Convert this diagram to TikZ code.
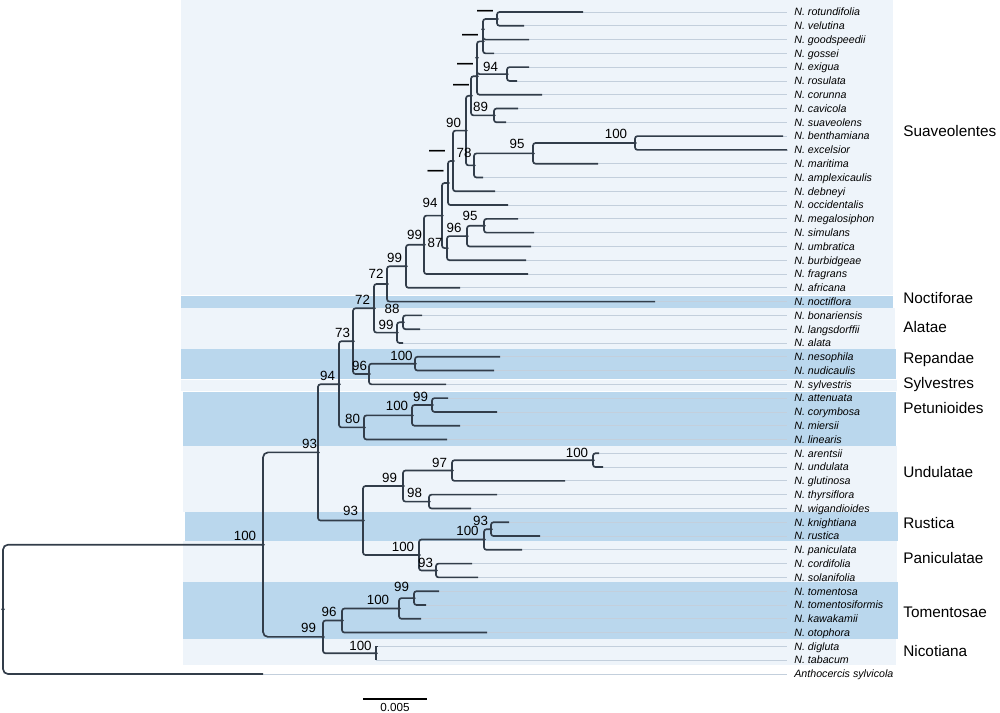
\documentclass[tikz,border=0pt]{standalone}
\usepackage{fontspec}
\setmainfont{Liberation Sans}
\usepackage{tikz}
\usetikzlibrary{positioning}

\definecolor{bandlight}{HTML}{EEF4FA}
\definecolor{banddark}{HTML}{BAD7ED}
\definecolor{branchcol}{HTML}{323D4A}
\definecolor{guidecol}{HTML}{C3CFDC}

\newcommand{\nd}{{\fontsize{9.6}{10}\selectfont\bfseries\textemdash}}

\tikzset{
  branch/.style={draw=branchcol, line width=1pt, rounded corners=1.5pt},
  guide/.style={draw=guidecol, line width=0.45pt},
  tiplab/.style={anchor=west, inner sep=0pt, font=\fontsize{6.4}{7}\selectfont\itshape, text height=4.6pt, text depth=0pt},
  bslab/.style={inner sep=0pt, font=\fontsize{8}{9}\selectfont},
  cladelab/.style={anchor=west, inner sep=0pt, font=\fontsize{9.2}{10}\selectfont, text height=6.6pt, text depth=0pt},
  scalelab/.style={inner sep=0pt, font=\fontsize{7}{8}\selectfont},
}

\begin{document}
\begin{tikzpicture}[x=0.6pt, y=-0.6pt]
\useasboundingbox (0,0) rectangle (1000,712);

% clade bands
\fill[bandlight] (181,0)   rectangle (893,295);
\fill[banddark]  (181,295.5) rectangle (893,307.5);
\fill[bandlight] (181,308) rectangle (895,349);
\fill[banddark]  (181,349) rectangle (896,379);
\fill[bandlight] (181,379.5) rectangle (897,391);
\fill[banddark]  (183,391.5) rectangle (896,446);
\fill[bandlight] (183,446) rectangle (897,512);
\fill[banddark]  (185,512) rectangle (898,540.5);
\fill[bandlight] (183,541) rectangle (897,582);
\fill[banddark]  (183,582) rectangle (898,639);
\fill[bandlight] (183,639) rectangle (896,665);

% tips, labels and guides
\foreach \n/\r/\x in {rotundifolia/1/583, velutina/2/524, goodspeedii/3/529,
  gossei/4/494, exigua/5/529, rosulata/6/517, corunna/7/542, cavicola/8/518,
  suaveolens/9/506, benthamiana/10/783, excelsior/11/787, maritima/12/598,
  amplexicaulis/13/483, debneyi/14/495, occidentalis/15/508,
  megalosiphon/16/518, simulans/17/534, umbratica/18/531, burbidgeae/19/526,
  fragrans/20/528, africana/21/460, noctiflora/22/655, bonariensis/23/422,
  langsdorffii/24/420, alata/25/403, nesophila/26/500, nudicaulis/27/494,
  sylvestris/28/446, attenuata/29/448, corymbosa/30/497, miersii/31/460,
  linearis/32/447, arentsii/33/599, undulata/34/603, glutinosa/35/565,
  thyrsiflora/36/497, wigandioides/37/471, knightiana/38/509, rustica/39/540,
  paniculata/40/522, cordifolia/41/472, solanifolia/42/478, tomentosa/43/439,
  tomentosiformis/44/426, kawakamii/45/421, otophora/46/487, digluta/47/378,
  tabacum/48/376}
{
  \coordinate (\n) at (\x,{12+13.79*(\r-1)});
  \node[tiplab] (\n-lab) at (794,{12+13.79*(\r-1)}) {N. \n};
  \draw[guide] (\n) -- ([xshift=-4pt]\n-lab.west);
}
\coordinate (sylvicola) at (263,674);
\node[tiplab] (sylvicola-lab) at (794,674) {Anthocercis sylvicola};
\draw[guide] (sylvicola) -- ([xshift=-4pt]sylvicola-lab.west);

% internal nodes
\foreach \n/\x/\y in {rv/497/19.0, rvg/483/29.3, rvgg/483/41.4, grpA/477/57.7,
  grpB/477/76.2, exro/507/74.1, grpC/471/95.8, cs/494/115.4, bex/635/143.0,
  n95/533/153.4, n78/474/165.4, n90/466/130.6, y1/453/161.0, y2/448/183.0,
  n95b/484/225.8, n96/467/236.1, n87/447/248.1, y3/442/215.6, n99a/424/244.8,
  n99b/406/266.3, n72a/387/284.0, n88/403/322.3, n99c/397/332.6,
  n72b/374/308.3, n100r/415/363.7, n96r/369/374.0, n73/353/341.2,
  n99p/432/405.0, n100p/412/415.4, n80/364/427.4, n94c/339/384.3,
  n100u/593/460.2, n97/452/470.5, n98/429/501.6, n99u/403/486.0,
  n93r/491/529.2, n100rr/484/539.5, n93p/436/570.5, n100pr/419/555.0,
  n93b/363/520.5, n93a/318/452.4, n99t/414/598.1, n100t/399/608.5,
  n96t/342/620.5, n100n/376/653.3, n99n/323/636.9, nA/263/544.7, root/3/609.3}
  \coordinate (\n) at (\x,\y);

% branches
\foreach \p/\c in {rv/rotundifolia, rv/velutina, rvg/rv, rvg/goodspeedii,
  rvgg/gossei, exro/exigua, exro/rosulata, grpA/rvgg, grpA/exro,
  grpB/corunna, cs/cavicola, cs/suaveolens, grpC/grpB, grpC/cs,
  bex/benthamiana, bex/excelsior, n95/bex, n95/maritima, n78/n95,
  n78/amplexicaulis, n90/grpC, n90/n78, y1/n90, y1/debneyi, y2/y1,
  y2/occidentalis, n95b/megalosiphon, n95b/simulans, n96/n95b, n96/umbratica,
  n87/n96, n87/burbidgeae, y3/y2, y3/n87, n99a/y3, n99a/fragrans,
  n99b/n99a, n99b/africana, n72a/n99b, n72a/noctiflora, n88/bonariensis,
  n88/langsdorffii, n99c/n88, n99c/alata, n72b/n72a, n72b/n99c,
  n100r/nesophila, n100r/nudicaulis, n96r/n100r, n96r/sylvestris, n73/n72b,
  n73/n96r, n99p/attenuata, n99p/corymbosa, n100p/n99p, n100p/miersii,
  n80/n100p, n80/linearis, n94c/n73, n94c/n80, n100u/arentsii,
  n100u/undulata, n97/n100u, n97/glutinosa, n98/thyrsiflora,
  n98/wigandioides, n99u/n97, n99u/n98, n93r/knightiana, n93r/rustica,
  n100rr/n93r, n100rr/paniculata, n93p/cordifolia, n93p/solanifolia,
  n100pr/n100rr, n100pr/n93p, n93b/n99u, n93b/n100pr, n93a/n94c, n93a/n93b,
  n99t/tomentosa, n99t/tomentosiformis, n100t/n99t, n100t/kawakamii,
  n96t/n100t, n96t/otophora, n99n/n96t, n99n/n100n}
  \draw[branch] (\p) |- (\c);
\foreach \p/\c in {rvgg/rvg, grpB/grpA, n100n/digluta, n100n/tabacum}
  \draw[branch, sharp corners] (\p) |- (\c);
\foreach \p/\c in {nA/n93a, nA/n99n, root/nA, root/sylvicola}
  \draw[branch, rounded corners=3pt] (\p) |- (\c);

% node dots
\foreach \n in {rv, rvg, rvgg, grpA, grpB, exro, grpC, cs, bex, n95, n78, n90,
  y1, y2, n95b, n96, n87, y3, n99a, n99b, n72a, n88, n99c, n72b, n100r, n96r,
  n73, n99p, n100p, n80, n94c, n100u, n97, n98, n99u, n93r, n100rr, n93p,
  n100pr, n93b, n93a, n99t, n100t, n96t, n100n, n99n, nA, root}
  \fill[branchcol] (\n) circle (1.1pt);

% support values
\foreach \n/\x/\y/\t in {rv/485/12.7/\nd, rvgg/470/37/\nd, grpB/465/66/\nd,
  grpC/461/87/\nd, exro/490.5/67/94, cs/480.5/107/89, n90/453.5/123/90,
  bex/616/134/100, n95/517/144/95, n78/464/153/78, y1/437/153/\nd,
  y2/435.5/173/\nd, y3/430/203/94, n95b/470/216/95, n96/454/228/96,
  n87/435/243/87, n99a/414.5/235/99, n99b/394.5/258/99, n72a/376/274/72,
  n72b/362.5/300/72, n88/392/309/88, n99c/386/325/99, n73/342.5/333/73,
  n100r/401.5/356/100, n96r/359.5/366/96, n94c/327.5/376/94,
  n99p/420.5/397/99, n100p/397/406/100, n80/352.5/419/80, n93a/309.5/444/93,
  n100u/577/453/100, n97/439.5/463/97, n99u/389.5/478/99, n98/414.5/493/98,
  n93b/350.5/511/93, n93r/480.5/521/93, n100rr/467.5/531/100,
  n100pr/403/547/100, n93p/425.5/563/93, nA/245/536/100, n99t/401.5/587/99,
  n100t/378/600/100, n96t/329/612/96, n99n/308.5/628/99, n100n/360.5/646/100}
  \node[bslab] (bs-\n) at (\x,\y) {\t};

% clade names
\foreach \n/\y in {Suaveolentes/131, Noctiforae/298, Alatae/327, Repandae/358,
  Sylvestres/383, Petunioides/408, Undulatae/472, Rustica/523,
  Paniculatae/558, Tomentosae/612, Nicotiana/651}
  \node[cladelab] (clade-\n) at (903,\y) {\n};

% scale bar
\coordinate (sb-left) at (363,699);
\coordinate (sb-right) at (427,699);
\draw[black, line width=0.7pt] (sb-left) -- (sb-right);
\node[scalelab] (sb-lab) at (395,707) {0.005};
\end{tikzpicture}
\end{document}
